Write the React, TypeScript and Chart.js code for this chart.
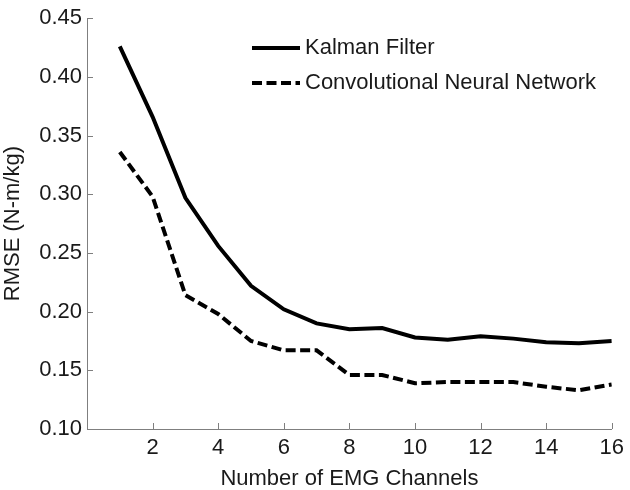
import React, { useEffect, useRef } from "react";
import { Chart, registerables } from "chart.js";

Chart.register(...registerables);

const channels = [1, 2, 3, 4, 5, 6, 7, 8, 9, 10, 11, 12, 13, 14, 15, 16];
const kalman = [0.426, 0.366, 0.297, 0.256, 0.222, 0.202, 0.190, 0.185, 0.186, 0.178, 0.176, 0.179, 0.177, 0.174, 0.173, 0.175];
const cnn = [0.336, 0.298, 0.214, 0.198, 0.175, 0.167, 0.167, 0.146, 0.146, 0.139, 0.140, 0.140, 0.140, 0.136, 0.133, 0.138];
const seriesLabels = ["Kalman Filter", "Convolutional Neural Network"];
const xTitle = "Number of EMG Channels";
const yTitle = "RMSE (N-m/kg)";

const FONT = "'Liberation Sans', Arial, Helvetica, sans-serif";
const TEXT = "#1a1a1a";
const AXIS = "#7f7f7f";

const inwardTicks = {
  id: "inwardTicks",
  afterDraw(chart: any) {
    const { ctx, chartArea } = chart;
    const xs = chart.scales.x;
    const ys = chart.scales.y;
    ctx.save();
    ctx.strokeStyle = AXIS;
    ctx.lineWidth = 1;
    xs.ticks.forEach((t: any) => {
      const px = Math.round(xs.getPixelForValue(t.value)) + 0.5;
      ctx.beginPath();
      ctx.moveTo(px, chartArea.bottom);
      ctx.lineTo(px, chartArea.bottom - 6);
      ctx.stroke();
    });
    ys.ticks.forEach((t: any) => {
      const py = Math.round(ys.getPixelForValue(t.value)) + 0.5;
      ctx.beginPath();
      ctx.moveTo(chartArea.left, py);
      ctx.lineTo(chartArea.left + 6, py);
      ctx.stroke();
    });
    ctx.restore();
  },
};

const customLegend = {
  id: "customLegend",
  afterDraw(chart: any) {
    const { ctx } = chart;
    const rows = [48, 83];
    ctx.save();
    chart.data.datasets.forEach((ds: any, i: number) => {
      const y = rows[i];
      ctx.strokeStyle = ds.borderColor;
      ctx.lineWidth = ds.borderWidth;
      ctx.setLineDash(ds.borderDash || []);
      ctx.beginPath();
      ctx.moveTo(252, y);
      ctx.lineTo(300, y);
      ctx.stroke();
      ctx.setLineDash([]);
      ctx.fillStyle = TEXT;
      ctx.font = `22px ${FONT}`;
      ctx.textAlign = "left";
      ctx.textBaseline = "middle";
      ctx.fillText(ds.label, 305, y);
    });
    ctx.restore();
  },
};

export default function App() {
  const ref = useRef<HTMLCanvasElement>(null);
  useEffect(() => {
    document.body.style.margin = "0";
    const chart = new Chart(ref.current!, {
      type: "line",
      data: {
        datasets: [
          {
            label: seriesLabels[0],
            data: channels.map((c, i) => ({ x: c, y: kalman[i] })),
            borderColor: "#000000",
            borderWidth: 4,
            pointRadius: 0,
            fill: false,
            tension: 0,
          },
          {
            label: seriesLabels[1],
            data: channels.map((c, i) => ({ x: c, y: cnn[i] })),
            borderColor: "#000000",
            borderWidth: 4,
            borderDash: [10, 4.5],
            pointRadius: 0,
            fill: false,
            tension: 0,
          },
        ],
      },
      options: {
        responsive: false,
        animation: false,
        layout: { padding: { top: 13, right: 15, left: 0, bottom: 0 } },
        plugins: {
          legend: { display: false },
          tooltip: { enabled: false },
        },
        scales: {
          x: {
            type: "linear",
            min: 0,
            max: 16,
            afterFit: (s: any) => {
              s.height = 61;
            },
            grid: { display: false, drawTicks: false },
            border: { display: true, color: AXIS, width: 1 },
            ticks: {
              stepSize: 2,
              padding: 6,
              color: TEXT,
              font: { size: 22, family: FONT },
              callback: (v: any) => (v === 0 ? "" : String(v)),
            },
            title: {
              display: true,
              text: xTitle,
              color: TEXT,
              font: { size: 22, family: FONT, lineHeight: 1 },
              padding: { top: 0, bottom: 0 },
            },
          },
          y: {
            type: "linear",
            min: 0.1,
            max: 0.45,
            afterFit: (s: any) => {
              s.width = 87;
            },
            grid: { display: false, drawTicks: false },
            border: { display: true, color: AXIS, width: 1 },
            ticks: {
              stepSize: 0.05,
              padding: 5,
              color: TEXT,
              font: { size: 22, family: FONT },
              callback: (v: any) => Number(v).toFixed(2),
            },
            title: {
              display: true,
              text: yTitle,
              color: TEXT,
              font: { size: 22, family: FONT, lineHeight: 1.2 },
              padding: { top: 0, bottom: 0 },
            },
          },
        },
      },
      plugins: [inwardTicks, customLegend],
    });
    return () => chart.destroy();
  }, []);
  return (
    <div style={{ width: 630, height: 490 }}>
      <canvas ref={ref} width={630} height={490} />
    </div>
  );
}
